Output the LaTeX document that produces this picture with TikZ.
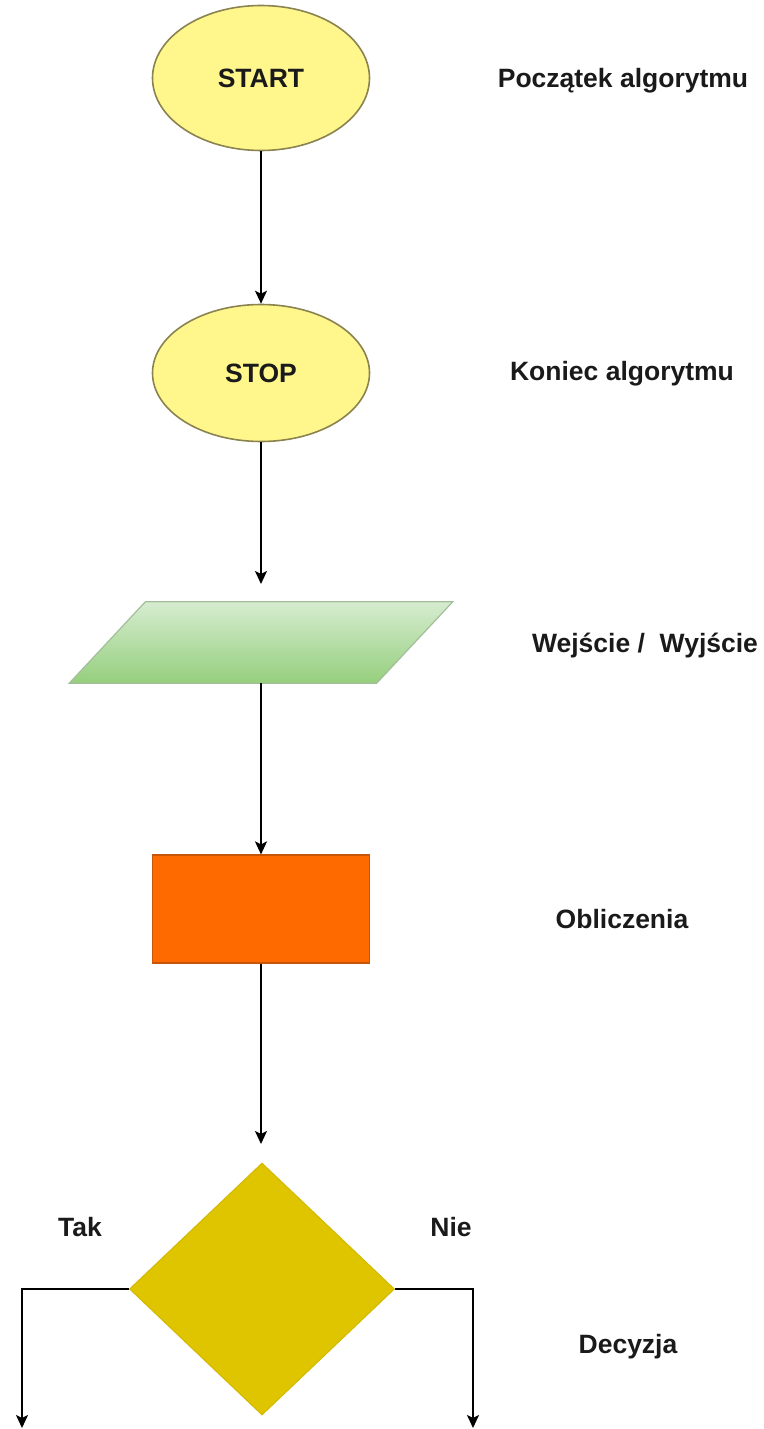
\documentclass[tikz,border=0pt]{standalone}
\usepackage{fontspec}
\setmainfont{Liberation Sans}
\usetikzlibrary{shapes.geometric,arrows.meta}

\definecolor{termfill}{HTML}{FFF78C}
\definecolor{termline}{HTML}{8A8350}
\definecolor{iotop}{HTML}{D6ECD0}
\definecolor{iobottom}{HTML}{95CF7D}
\definecolor{ioline}{HTML}{A3BF9A}
\definecolor{procfill}{HTML}{FF6A00}
\definecolor{procline}{HTML}{C8560A}
\definecolor{decfill}{HTML}{DFC400}
\definecolor{decline}{HTML}{D2B800}
\definecolor{labeltext}{HTML}{1A1A1A}

\tikzset{
  every node/.style={font=\fontsize{26.5}{30}\selectfont\bfseries, text=labeltext},
  terminal/.style={ellipse, draw=termline, line width=1.6pt, fill=termfill,
    minimum width=217pt, minimum height=145pt, inner sep=0pt},
  procbox/.style={rectangle, draw=procline, line width=1.2pt, fill=procfill,
    minimum width=217pt, minimum height=108pt, inner sep=0pt},
  decbox/.style={diamond, draw=decline, line width=1pt, fill=decfill,
    minimum width=265pt, minimum height=252pt, inner sep=0pt},
  iobody/.style={minimum width=231pt, minimum height=81pt, inner sep=0pt},
  flow/.style={line width=1.8pt, draw=black,
    -{Stealth[length=13pt,width=12pt,inset=3pt]}},
  legend/.style={anchor=center},
}

\begin{document}
\begin{tikzpicture}[x=1pt,y=-1pt]
  \path (0,0) rectangle (763,1429);

  % start and stop terminals
  \node[terminal] (start) at (261,78) {START};
  \node[terminal, minimum height=137pt] (stop) at (261,373) {STOP};

  % input / output parallelogram
  \node[iobody] (io) at (261,642.5) {};
  \shade[top color=iotop, bottom color=iobottom, draw=ioline, line width=1.2pt]
    (io.north west) -- ([xshift=76pt]io.north east) -- (io.south east)
    -- ([xshift=-76pt]io.south west) -- cycle;

  % processing block
  \node[procbox] (proc) at (261,909) {};

  % decision
  \node[decbox] (dec) at (262,1289) {};

  % free arrow ends
  \coordinate (ioin) at (261,584);
  \coordinate (decin) at (261,1144);
  \coordinate (yesend) at (22,1428);
  \coordinate (noend) at (473,1428);

  % connectors
  \draw[flow] (start.south) -- (stop.north);
  \draw[flow] (stop.south) -- (ioin);
  \draw[flow] (io.south) -- (proc.north);
  \draw[flow] (proc.south) -- (decin);
  \draw[flow] (dec.west) -| (yesend);
  \draw[flow] (dec.east) -| (noend);

  % branch labels
  \node (tak) at (80,1227) {Tak};
  \node (nie) at (451,1227) {Nie};

  % legend
  \node[legend] (l1) at (623,81) {Początek algorytmu};
  \node[legend] (l2) at (622,374) {Koniec algorytmu};
  \node[legend] (l3) at (645,646) {Wejście /\ \ Wyjście};
  \node[legend] (l4) at (622,919) {Obliczenia};
  \node[legend] (l5) at (628,1347) {Decyzja};
\end{tikzpicture}
\end{document}
